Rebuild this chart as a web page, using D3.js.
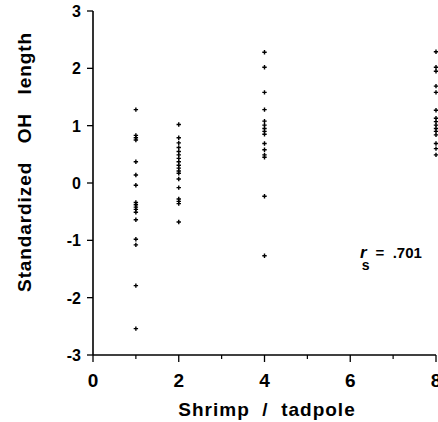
<!DOCTYPE html>
<html><head><meta charset="utf-8">
<script src="https://cdn.jsdelivr.net/npm/d3@7"></script>
<style>
html,body{margin:0;padding:0;background:#fff;}
svg{display:block;font-family:"Liberation Sans",Arial,Helvetica,sans-serif;font-weight:bold;}
</style></head><body>
<div id="chart"></div>
<script>
// Data
const shrimpPerTadpole = [1, 2, 4, 8];
const ohLength1 = [1.28, 0.83, 0.79, 0.75, 0.37, 0.14, -0.04, -0.34, -0.38, -0.42, -0.46, -0.51, -0.64, -0.98, -1.08, -1.79, -2.54];
const ohLength2 = [1.02, 0.79, 0.70, 0.62, 0.55, 0.49, 0.43, 0.37, 0.31, 0.26, 0.21, 0.17, 0.07, -0.08, -0.28, -0.32, -0.36, -0.68];
const ohLength4 = [2.28, 2.02, 1.58, 1.28, 1.08, 1.01, 0.95, 0.90, 0.85, 0.69, 0.58, 0.49, 0.45, -0.23, -1.27];
const ohLength8 = [2.29, 2.02, 1.95, 1.69, 1.58, 1.27, 1.13, 1.07, 1.01, 0.95, 0.90, 0.84, 0.69, 0.60, 0.49];
const xTicks = [0, 2, 4, 6, 8];
const xMinorTicks = [1, 3, 5, 7];
const yTicks = [-3, -2, -1, 0, 1, 2, 3];
const xTitle = "Shrimp  /  tadpole";
const yTitle = "Standardized   OH   length";
const rsValue = ".701";

const groups = [ohLength1, ohLength2, ohLength4, ohLength8];
const points = [];
groups.forEach((g, i) => g.forEach(v => points.push({x: shrimpPerTadpole[i], y: v})));

const W = 438, H = 422;
const m = {left: 93, top: 11, right: 2, bottom: 67};
const svg = d3.select("#chart").append("svg").attr("width", W).attr("height", H);

const x = d3.scaleLinear().domain([0, 8]).range([m.left, W - m.right]);
const y = d3.scaleLinear().domain([-3, 3]).range([H - m.bottom, m.top]);

// X axis
const gx = svg.append("g").attr("transform", `translate(0,${y(-3)})`);
gx.append("line").attr("x1", x(0)).attr("x2", x(8)).attr("stroke", "#000").attr("stroke-width", 1.5);
gx.selectAll(".maj").data(xTicks).join("line")
  .attr("x1", d => x(d)).attr("x2", d => x(d)).attr("y1", 0).attr("y2", 7)
  .attr("stroke", "#000").attr("stroke-width", 1.3);
gx.selectAll(".min").data(xMinorTicks).join("line")
  .attr("x1", d => x(d)).attr("x2", d => x(d)).attr("y1", 0).attr("y2", 4)
  .attr("stroke", "#000").attr("stroke-width", 1.2);
gx.selectAll("text").data(xTicks).join("text")
  .attr("x", d => x(d)).attr("y", 32).attr("text-anchor", "middle")
  .attr("font-size", 19).text(d => d);

// Y axis
const gy = svg.append("g").attr("transform", `translate(${x(0)},0)`);
gy.append("line").attr("y1", y(-3)).attr("y2", y(3)).attr("stroke", "#000").attr("stroke-width", 1.6);
gy.selectAll("line.t").data(yTicks).join("line")
  .attr("y1", d => y(d)).attr("y2", d => y(d)).attr("x1", -6).attr("x2", 0)
  .attr("stroke", "#000").attr("stroke-width", 1.3);
gy.selectAll("text").data(yTicks).join("text")
  .attr("x", -12).attr("y", d => y(d) + 6).attr("text-anchor", "end")
  .attr("font-size", 16).text(d => d);

// Titles
svg.append("text").attr("x", 267).attr("y", 416).attr("text-anchor", "middle")
  .attr("font-size", 19).style("white-space", "pre").attr("letter-spacing", 1).text(xTitle);
svg.append("text").attr("transform", `translate(31,162) rotate(-90)`).attr("text-anchor", "middle")
  .attr("font-size", 19).style("white-space", "pre").attr("letter-spacing", 0.9).text(yTitle);

// Points
svg.append("g").selectAll("path").data(points).join("path")
  .attr("transform", d => `translate(${x(d.x)},${y(d.y)})`)
  .attr("d", "M-2.2,0H2.2M0,-2.2V2.2")
  .attr("stroke", "#000").attr("stroke-width", 1.4).attr("fill", "none");

// Annotation (single text element with subscript)
const ann = svg.append("text").attr("x", 360).attr("y", 258).style("white-space", "pre");
ann.append("tspan").attr("font-size", 17).attr("font-style", "italic").text("r");
ann.append("tspan").attr("font-size", 14).attr("dx", -5).attr("dy", 12).text("s");
ann.append("tspan").attr("font-size", 15).attr("dx", 2).attr("dy", -12).text(" =  " + rsValue);
</script></body></html>
